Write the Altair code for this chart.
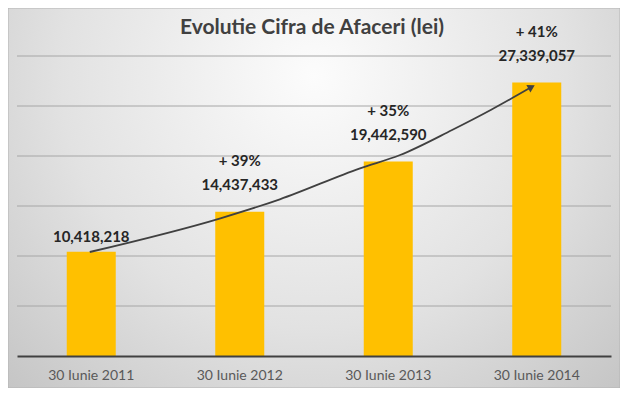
import altair as alt
import pandas as pd

title_text = "Evolutie Cifra de Afaceri (lei)"
categories = ["30 Iunie 2011", "30 Iunie 2012", "30 Iunie 2013", "30 Iunie 2014"]
values = [10418218, 14437433, 19442590, 27339057]
value_labels = ["10,418,218", "14,437,433", "19,442,590", "27,339,057"]
growth = ["", "+ 39%", "+ 35%", "+ 41%"]
grid_values = [5000000, 10000000, 15000000, 20000000, 25000000, 30000000]

# trend arrow path (position along the 4 categories, value in lei)
arrow_x = [0.49, 1.37, 1.77, 2.31, 2.58, 2.93, 3.19, 3.465]
arrow_y = [10400000, 13770000, 15670000, 18770000, 20100000, 22600000, 24600000, 26900000]

W, H = 594, 300
FONT = "Lato"

df = pd.DataFrame({"cat": categories, "value": values, "label": value_labels, "growth": growth})
grid_df = pd.DataFrame({"g": grid_values})
arrow_df = pd.DataFrame({"t": arrow_x, "v": arrow_y, "o": list(range(len(arrow_x)))})
head_df = arrow_df.tail(1)

yscale = alt.Scale(domain=[0, 30000000], nice=False, zero=True)
xband = alt.Scale(domain=categories, paddingInner=0.67, paddingOuter=0.335)
xq = alt.Scale(domain=[0, 4], nice=False, zero=False)

bg = alt.Chart(alt.Data(values=[{"a": 1}])).mark_rect(
    fill=alt.RadialGradient(
        gradient="radial",
        stops=[
            alt.GradientStop(offset=0, color="#fcfcfc"),
            alt.GradientStop(offset=0.55, color="#e2e2e2"),
            alt.GradientStop(offset=1, color="#c2c2c2"),
        ],
        x1=0.5, y1=0.3, r1=0, x2=0.5, y2=0.3, r2=0.75,
    ),
    stroke="#b4b4b4",
    strokeWidth=1,
).encode(x=alt.value(-9), x2=alt.value(W + 9), y=alt.value(-48), y2=alt.value(H + 32))

title = alt.Chart(alt.Data(values=[{"t": title_text}])).mark_text(
    font=FONT, fontSize=21, fontWeight="bold", color="#404040", align="center", baseline="middle"
).encode(x=alt.value(W / 2 - 2), y=alt.value(-28), text="t:N")

grid = alt.Chart(grid_df).mark_rule(color="#a6a6a6", strokeWidth=1).encode(
    y=alt.Y("g:Q", scale=yscale, axis=None), x=alt.value(0), x2=alt.value(W)
)

bars = alt.Chart(df).mark_bar(color="#FFC000").encode(
    x=alt.X("cat:N", scale=xband, sort=categories, title=None,
            axis=alt.Axis(labelAngle=0, ticks=False, domainColor="#404040", domainWidth=2,
                          labelFont=FONT, labelFontSize=14, labelColor="#595959",
                          labelPadding=12, grid=False, zindex=1)),
    y=alt.Y("value:Q", scale=yscale, axis=None),
)

def text_layer(field, dy, cond):
    return alt.Chart(df).transform_filter(cond).mark_text(
        font=FONT, fontSize=15, fontWeight="bold", color="#262626",
        align="center", baseline="middle", dy=dy,
    ).encode(
        x=alt.X("cat:N", scale=xband, sort=categories, axis=None),
        y=alt.Y("value:Q", scale=yscale, axis=None),
        text=f"{field}:N",
    )

first_lbl = text_layer("label", -15, "datum.growth == ''")
val_lbl = text_layer("label", -27, "datum.growth != ''")
pct_lbl = text_layer("growth", -51, "datum.growth != ''")

arrow = alt.Chart(arrow_df).mark_line(color="#404040", strokeWidth=1.8, interpolate="monotone").encode(
    x=alt.X("t:Q", scale=xq, axis=None),
    y=alt.Y("v:Q", scale=yscale, axis=None),
    order="o:Q",
)
head = alt.Chart(head_df).mark_point(shape="triangle-right", filled=True, color="#404040",
                                     size=70, angle=331, opacity=1).encode(
    x=alt.X("t:Q", scale=xq, axis=None),
    y=alt.Y("v:Q", scale=yscale, axis=None),
)

chart = alt.layer(bg, title, grid, bars, first_lbl, val_lbl, pct_lbl, arrow, head).resolve_scale(
    x="independent"
).properties(
    width=W, height=H,
    autosize=alt.AutoSizeParams(type="none"),
    padding={"left": 9, "top": 48, "right": 9, "bottom": 32},
).configure_view(stroke=None).configure(background="white")

chart.save("out.html", embed_options={"renderer": "svg", "actions": False})
